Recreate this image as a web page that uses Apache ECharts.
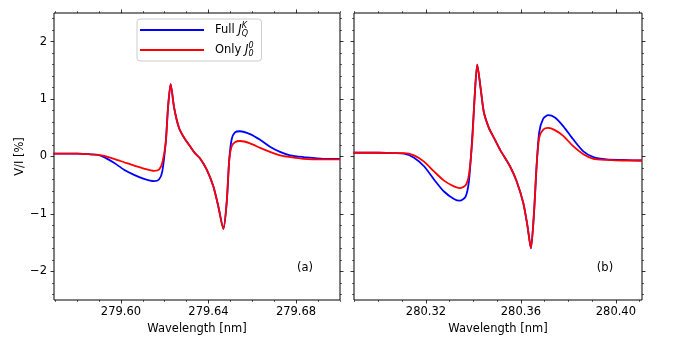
<!DOCTYPE html>
<html>
<head>
<meta charset="utf-8">
<script src="https://cdn.jsdelivr.net/npm/echarts@6/dist/echarts.min.js"></script>
<style>
html,body{margin:0;padding:0;background:#fff;}
#chart{width:674px;height:337px;}
</style>
</head>
<body>
<div id="chart"></div>
<script>
// panel (a)
var waveA = [279.569, 279.575, 279.580, 279.585, 279.5895, 279.5923, 279.5968, 279.6014, 279.6060, 279.6105,
    279.6151, 279.6174, 279.6189, 279.6205, 279.6215, 279.6227, 279.6243, 279.6265, 279.6288, 279.6319,
    279.6340, 279.6361, 279.6392, 279.6422, 279.6445, 279.6468, 279.6483, 279.6495, 279.6506, 279.6521,
    279.6544, 279.6590, 279.6636, 279.6681, 279.6727, 279.6773, 279.6834, 279.6925, 279.7000];
var fullA = [0.05, 0.05, 0.05, 0.04, 0.03, -0.01, -0.11, -0.23, -0.32, -0.39,
    -0.43, -0.40, -0.26, 0.27, 0.85, 1.26, 0.85, 0.50, 0.33, 0.16,
    0.05, -0.03, -0.23, -0.52, -0.87, -1.26, -0.81, -0.05, 0.30, 0.42,
    0.44, 0.39, 0.29, 0.17, 0.08, 0.02, -0.01, -0.04, -0.04];
var onlyA = [0.05, 0.05, 0.05, 0.04, 0.03, 0.01, -0.04, -0.10, -0.16, -0.21,
    -0.25, -0.23, -0.11, 0.25, 0.85, 1.26, 0.85, 0.50, 0.33, 0.16,
    0.05, -0.03, -0.23, -0.52, -0.87, -1.26, -0.81, -0.05, 0.18, 0.25,
    0.27, 0.23, 0.15, 0.08, 0.02, -0.01, -0.04, -0.05, -0.05];

// panel (b)
var waveB = [280.2895, 280.295, 280.300, 280.3065, 280.3108, 280.3150, 280.3192, 280.3234, 280.3276, 280.3318,
    280.3343, 280.3367, 280.3381, 280.3395, 280.3405, 280.3416, 280.3430, 280.3444, 280.3465, 280.3486,
    280.3512, 280.3554, 280.3582, 280.3610, 280.3628, 280.3642, 280.3655, 280.3666, 280.3677, 280.3694,
    280.3715, 280.3743, 280.3778, 280.3820, 280.3863, 280.3905, 280.3961, 280.4031, 280.4101, 280.4110];
var fullB = [0.065, 0.065, 0.065, 0.06, 0.05, -0.02, -0.17, -0.40, -0.61, -0.74,
    -0.77, -0.70, -0.43, 0.33, 1.03, 1.60, 1.20, 0.77, 0.50, 0.33,
    0.12, -0.17, -0.43, -0.81, -1.22, -1.60, -0.99, -0.17, 0.42, 0.66,
    0.72, 0.68, 0.53, 0.30, 0.09, -0.01, -0.05, -0.06, -0.07, -0.07];
var onlyB = [0.065, 0.065, 0.065, 0.06, 0.06, 0.02, -0.09, -0.26, -0.42, -0.52,
    -0.55, -0.50, -0.32, 0.27, 1.03, 1.60, 1.20, 0.77, 0.50, 0.33,
    0.12, -0.17, -0.43, -0.81, -1.22, -1.60, -0.99, -0.17, 0.33, 0.47,
    0.50, 0.46, 0.36, 0.18, 0.04, -0.04, -0.06, -0.07, -0.07, -0.07];

// tick positions
var majorA = [279.60, 279.64, 279.68];
var minorA = [279.57, 279.58, 279.59, 279.61, 279.62, 279.63, 279.65, 279.66, 279.67, 279.69, 279.70];
var majorB = [280.32, 280.36, 280.40];
var minorB = [280.29, 280.30, 280.31, 280.33, 280.34, 280.35, 280.37, 280.38, 280.39, 280.41];
var yMajor = [-2, -1, 0, 1, 2];
var yMinor = [-2.4, -2.2, -1.8, -1.6, -1.4, -1.2, -0.8, -0.6, -0.4, -0.2,
    0.2, 0.4, 0.6, 0.8, 1.2, 1.4, 1.6, 1.8, 2.2, 2.4];

var FONT = 'DejaVu Sans';
var FS = 11.5;

function zip(xs, ys) {
    var out = [];
    for (var i = 0; i < xs.length; i++) out.push([xs[i], ys[i]]);
    return out;
}

function minus(v) {
    return v < 0 ? '\u2212' + Math.abs(v) : String(v);
}

function makeX(gi, mn, mx, major, minor) {
    var base = {
        type: 'value', gridIndex: gi, min: mn, max: mx,
        axisLine: {show: false, onZero: false}, splitLine: {show: false}
    };
    var list = [];
    ['bottom', 'top'].forEach(function (pos) {
        list.push(Object.assign({}, base, {
            position: pos,
            axisTick: {customValues: major, length: 3.5, lineStyle: {color: '#000', width: 0.8}},
            axisLabel: pos == 'bottom' ? {
                customValues: major, fontSize: FS, fontFamily: FONT, color: '#000', margin: 6,
                formatter: function (v) { return v.toFixed(2); }
            } : {show: false},
            name: pos == 'bottom' ? 'Wavelength [nm]' : '',
            nameLocation: 'middle', nameGap: 19,
            nameTextStyle: {fontSize: FS, fontFamily: FONT, color: '#000'}
        }));
        list.push(Object.assign({}, base, {
            position: pos,
            axisTick: {customValues: minor, length: 2, lineStyle: {color: '#000', width: 0.6}},
            axisLabel: {show: false}
        }));
    });
    return list;
}

function makeY(gi, showLabel) {
    var base = {
        type: 'value', gridIndex: gi, min: -2.5, max: 2.5,
        axisLine: {show: false, onZero: false}, splitLine: {show: false}
    };
    var list = [];
    ['left', 'right'].forEach(function (pos) {
        var lab = pos == 'left' && showLabel;
        list.push(Object.assign({}, base, {
            position: pos,
            axisTick: {customValues: yMajor, length: 3.5, lineStyle: {color: '#000', width: 0.8}},
            axisLabel: lab ? {
                customValues: yMajor, fontSize: FS, fontFamily: FONT, color: '#000', margin: 7,
                formatter: minus
            } : {show: false},
            name: lab ? 'V/I [%]' : '',
            nameLocation: 'middle', nameGap: 28,
            nameTextStyle: {fontSize: FS, fontFamily: FONT, color: '#000'}
        }));
        list.push(Object.assign({}, base, {
            position: pos,
            axisTick: {customValues: yMinor, length: 2, lineStyle: {color: '#000', width: 0.6}},
            axisLabel: {show: false}
        }));
    });
    return list;
}

function line(name, color, xi, data) {
    return {
        name: name, type: 'line', xAxisIndex: xi, yAxisIndex: xi,
        data: data, symbol: 'none', smooth: 0.25,
        lineStyle: {color: color, width: 1.8}, itemStyle: {color: color}
    };
}

var myChart = echarts.init(document.getElementById('chart'));
var option = {
    animation: false,
    backgroundColor: '#fff',
    grid: [
        {left: 54, top: 13, width: 286, height: 287, outerBoundsMode: 'none', show: true, borderColor: '#000', borderWidth: 1, backgroundColor: 'transparent'},
        {left: 354, top: 13, width: 288, height: 287, outerBoundsMode: 'none', show: true, borderColor: '#000', borderWidth: 1, backgroundColor: 'transparent'}
    ],
    xAxis: makeX(0, 279.5694, 279.7001, majorA, minorA).concat(makeX(1, 280.2897, 280.411, majorB, minorB)),
    yAxis: makeY(0, true).concat(makeY(1, false)),
    legend: {
        data: ['Full', 'Only'],
        orient: 'vertical', left: 137, top: 19,
        icon: 'rect', itemWidth: 64, itemHeight: 2, itemGap: 4,
        padding: [3, 8, 3, 3],
        borderColor: '#ccc', borderWidth: 1, borderRadius: 3, backgroundColor: '#fff',
        textStyle: {
            fontSize: FS, fontFamily: FONT, color: '#000', padding: [0, 0, 0, 6],
            rich: {
                t: {fontSize: FS, fontFamily: FONT, color: '#000'},
                j: {fontSize: FS, fontFamily: FONT, fontStyle: 'italic', color: '#000'},
                sup: {fontSize: 8, fontFamily: FONT, fontStyle: 'italic', color: '#000', verticalAlign: 'top', width: 0, lineHeight: 16},
                sub: {fontSize: 8, fontFamily: FONT, fontStyle: 'italic', color: '#000', verticalAlign: 'bottom', lineHeight: 16}
            }
        },
        formatter: function (name) {
            if (name == 'Full') return '{t|Full }{j|J}{sup|K}{sub|Q}';
            return '{t|Only }{j|J}{sup|0}{sub|0}';
        }
    },
    graphic: [
        {type: 'text', x: 305, y: 268, style: {text: '(a)', font: FS + 'px DejaVu Sans', fill: '#000', align: 'center', verticalAlign: 'middle'}},
        {type: 'text', x: 605, y: 268, style: {text: '(b)', font: FS + 'px DejaVu Sans', fill: '#000', align: 'center', verticalAlign: 'middle'}}
    ],
    series: [
        line('Full', '#0000ff', 0, zip(waveA, fullA)),
        line('Only', '#ff0000', 0, zip(waveA, onlyA)),
        line('Full', '#0000ff', 4, zip(waveB, fullB)),
        line('Only', '#ff0000', 4, zip(waveB, onlyB))
    ]
};
myChart.setOption(option);
</script>
</body>
</html>
